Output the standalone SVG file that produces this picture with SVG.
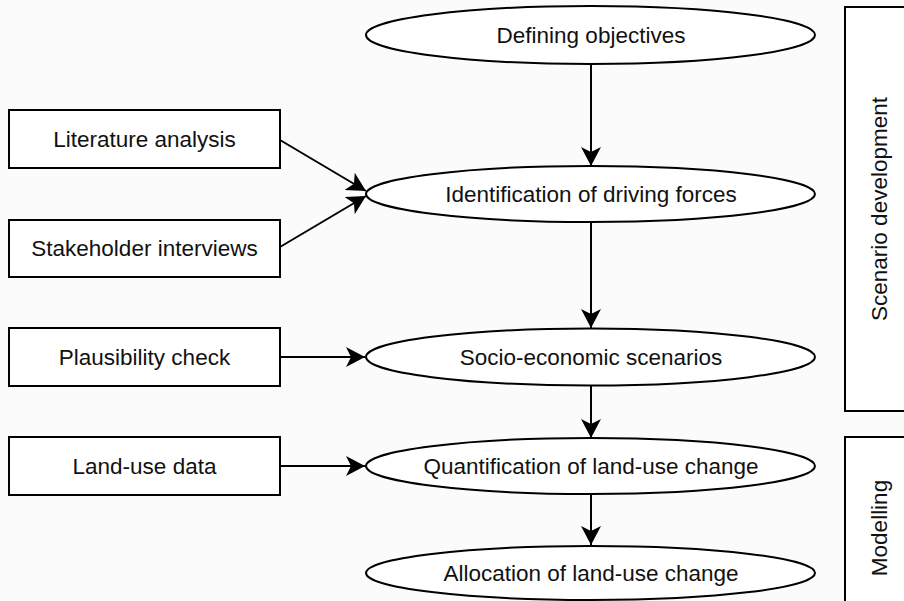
<svg xmlns="http://www.w3.org/2000/svg" width="904" height="601" viewBox="0 0 904 601">
<style>
.bg{fill:#fbfbfb}
.shape{fill:#ffffff;stroke:#000;stroke-width:2}
.lbl{font-family:"Liberation Sans",Arial,sans-serif;font-size:22.5px;fill:#111;text-anchor:middle;dominant-baseline:central}
.conn{stroke:#000;stroke-width:2;fill:none;marker-end:url(#arr)}
</style>
<defs>
<marker id="arr" markerUnits="userSpaceOnUse" markerWidth="22" markerHeight="22" refX="19" refY="11" orient="auto">
<path d="M0,1 L19,11 L0,21 L5,11 z" fill="#000"/>
</marker>
</defs>
<rect class="bg" x="0" y="0" width="904" height="601"/>
<g id="connectors">
<line class="conn" x1="591" y1="64" x2="591" y2="166"/>
<line class="conn" x1="280" y1="140" x2="366" y2="191"/>
<line class="conn" x1="280" y1="247" x2="366" y2="196"/>
<line class="conn" x1="591" y1="222" x2="591" y2="328"/>
<line class="conn" x1="280" y1="357" x2="365" y2="357"/>
<line class="conn" x1="591" y1="386" x2="591" y2="438"/>
<line class="conn" x1="280" y1="466" x2="365" y2="466"/>
<line class="conn" x1="591" y1="494" x2="591" y2="545"/>
</g>
<g id="n-defining"><ellipse class="shape" cx="590.5" cy="35" rx="224.5" ry="29"/><text class="lbl" x="591" y="35">Defining objectives</text></g>
<g id="n-identification"><ellipse class="shape" cx="590.5" cy="194" rx="224.5" ry="28"/><text class="lbl" x="591" y="194">Identification of driving forces</text></g>
<g id="n-socio"><ellipse class="shape" cx="590.5" cy="357" rx="224.5" ry="28.5"/><text class="lbl" x="591" y="357">Socio-economic scenarios</text></g>
<g id="n-quant"><ellipse class="shape" cx="590.5" cy="466" rx="224.5" ry="28"/><text class="lbl" x="591" y="466">Quantification of land-use change</text></g>
<g id="n-alloc"><ellipse class="shape" cx="590.5" cy="573" rx="224.5" ry="27"/><text class="lbl" x="591" y="573">Allocation of land-use change</text></g>
<g id="n-literature"><rect class="shape" x="9" y="110" width="271" height="58"/><text class="lbl" x="144.5" y="139">Literature analysis</text></g>
<g id="n-stakeholder"><rect class="shape" x="9" y="220" width="271" height="57"/><text class="lbl" x="144.5" y="248.5">Stakeholder interviews</text></g>
<g id="n-plausibility"><rect class="shape" x="9" y="328" width="271" height="58"/><text class="lbl" x="144.5" y="357">Plausibility check</text></g>
<g id="n-landuse"><rect class="shape" x="9" y="437" width="271" height="58"/><text class="lbl" x="144.5" y="466">Land-use data</text></g>
<g id="n-scenario-dev"><rect class="shape" x="845" y="7" width="70" height="404"/><text class="lbl" transform="translate(879,209) rotate(-90)" x="0" y="0">Scenario development</text></g>
<g id="n-modelling"><rect class="shape" x="845" y="437" width="70" height="180"/><text class="lbl" transform="translate(879,528) rotate(-90)" x="0" y="0">Modelling</text></g>
</svg>
